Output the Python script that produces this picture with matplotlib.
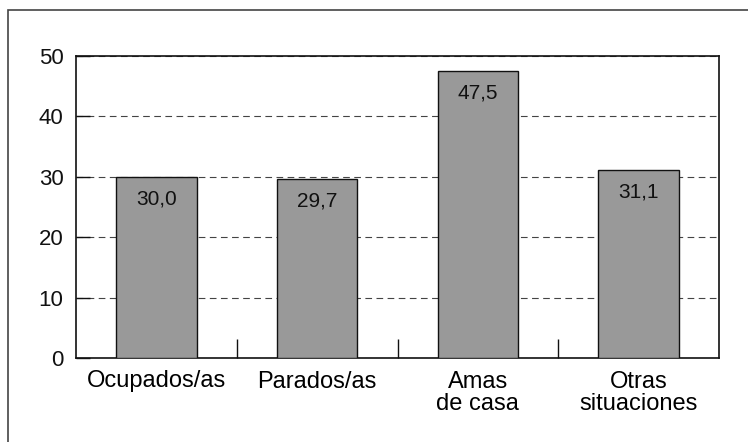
import numpy as np
import matplotlib
matplotlib.use("Agg")
import matplotlib.pyplot as plt
from matplotlib.patches import Rectangle

plt.rcParams['font.family'] = ['Liberation Sans', 'DejaVu Sans']

# datos
categorias = ["Ocupados/as", "Parados/as", "Amas\nde casa", "Otras\nsituaciones"]
valores = [30.0, 29.7, 47.5, 31.1]
etiquetas = ["30,0", "29,7", "47,5", "31,1"]
yticks = [0, 10, 20, 30, 40, 50]

fig = plt.figure(figsize=(7.48, 4.42), dpi=100)
W, H = 748, 442
ax = fig.add_axes([76 / W, 1 - 358 / H, (719 - 76) / W, (358 - 56) / H])

x = np.arange(len(categorias))
ax.bar(x, valores, width=0.5, color="#999999", edgecolor="#111111", linewidth=1.0, zorder=3)

for xi, v, t in zip(x, valores, etiquetas):
    ax.annotate(t, (xi, v), xytext=(0, -22), textcoords="offset pixels",
                ha="center", va="center", fontsize=15, color="#111111", zorder=4)

ax.set_xlim(-0.5, len(categorias) - 0.5)
ax.set_ylim(0, 50)
ax.set_yticks(yticks)
ax.set_yticklabels([str(t) for t in yticks], fontsize=16)
ax.yaxis.grid(True, linestyle=(0, (6, 4)), color="#444444", linewidth=0.8, zorder=1)
ax.tick_params(axis="y", direction="in", length=10, width=1.0, pad=9, colors="#111111")

# ticks del eje x en los limites de categoria
ax.set_xticks(x[:-1] + 0.5)
ax.set_xticklabels([])
ax.set_xticks(x, minor=True)
ax.set_xticklabels(categorias, minor=True, fontsize=17, linespacing=1.0)
ax.tick_params(axis="x", which="major", direction="in", length=14, width=1.0, colors="#111111")
ax.tick_params(axis="x", which="minor", length=0, pad=9)

for s in ax.spines.values():
    s.set_linewidth(1.2)
    s.set_color("#111111")

# marco exterior
fig.add_artist(Rectangle((8 / W, -0.1), 1.2, 1.1 - 10 / H, transform=fig.transFigure,
                         fill=False, edgecolor="#444444", linewidth=1.2))

fig.savefig("out.png", dpi=100)
